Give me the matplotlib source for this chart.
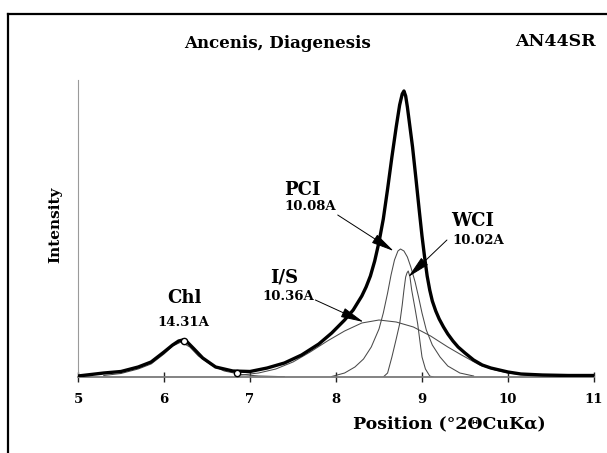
import matplotlib
matplotlib.use('Agg')
import matplotlib.pyplot as plt
from matplotlib.lines import Line2D

# ---------------- data ----------------
pos_total = [5.00, 5.15, 5.30, 5.50, 5.70, 5.85, 6.00, 6.10, 6.17, 6.22, 6.27, 6.35,
             6.45, 6.60, 6.80, 7.00, 7.20, 7.40, 7.60, 7.80, 7.95, 8.10, 8.20, 8.30,
             8.35, 8.40, 8.45, 8.50, 8.55, 8.60, 8.65, 8.70, 8.74, 8.77, 8.79, 8.81,
             8.83, 8.86, 8.89, 8.93, 8.97, 9.00, 9.03, 9.06, 9.09, 9.12, 9.16, 9.20,
             9.25, 9.30, 9.36, 9.42, 9.50, 9.60, 9.70, 9.80, 9.90, 10.00, 10.15,
             10.40, 10.70, 11.00]
int_total = [1, 2.5, 4, 5.5, 10, 15, 25, 32, 36, 37, 35, 28,
             19, 10, 6, 5.5, 9, 14, 22, 33, 44, 57, 67, 81,
             90, 101, 116, 135, 158, 188, 220, 250, 272, 283, 286, 281,
             270, 250, 230, 198, 165, 141, 120, 101, 87, 76, 66, 58,
             50, 43, 36, 30, 24, 17, 12, 9, 7, 5, 3,
             2, 1.5, 1.5]

pos_chl = [5.3, 5.5, 5.7, 5.85, 6.0, 6.1, 6.2, 6.3, 6.4, 6.55, 6.7, 6.9, 7.1, 7.4]
int_chl = [1.5, 3.5, 8, 13, 23, 31, 35, 30, 21, 12, 6, 2.5, 1, 0.3]

pos_is = [6.9, 7.1, 7.3, 7.5, 7.7, 7.9, 8.1, 8.3, 8.5, 8.7, 8.9, 9.1, 9.3, 9.46,
          9.67, 9.85, 10.0, 10.2, 10.5]
int_is = [2, 4, 8, 15, 25, 36, 46, 54, 57, 55, 50, 41, 30, 22,
          12, 7, 4, 2, 1]

pos_pci = [7.95, 8.10, 8.22, 8.32, 8.41, 8.50, 8.55, 8.60, 8.64, 8.68, 8.72, 8.75,
           8.79, 8.83, 8.87, 8.92, 8.96, 9.00, 9.05, 9.12, 9.21, 9.30, 9.44, 9.60]
int_pci = [0.5, 4, 10, 18, 30, 48, 64, 84, 102, 117, 126, 128,
           126, 120, 110, 95, 80, 64, 47, 32, 20, 11, 4, 1]

pos_wci = [8.55, 8.60, 8.65, 8.70, 8.74, 8.77, 8.79, 8.81, 8.825, 8.84, 8.86, 8.88,
           8.92, 8.95, 8.98, 9.00, 9.04, 9.09, 9.13]
int_wci = [0, 4, 20, 38, 53, 72, 87, 100, 104, 106, 100, 87,
           68, 53, 33, 20, 8, 1, 0]

pos_marks = [6.23, 6.85]
int_marks = [36, 4]

x_ticks = [5, 6, 7, 8, 9, 10, 11]
x_ticklabels = ['5', '6', '7', '8', '9', '10', '11']

peak_names = ['Chl', 'PCI', 'I/S', 'WCI']
peak_d = ['14.31A', '10.08A', '10.36A', '10.02A']

# ---------------- figure ----------------
plt.rcParams['font.family'] = ['DejaVu Serif']
plt.rcParams['font.weight'] = 'bold'

W, H = 607, 453
fig = plt.figure(figsize=(W / 100, H / 100), dpi=100)

def fx(x):
    return x / W

def fy(y):
    return 1 - y / H

L, R, B, T = 78, 594, 377, 80
ax = fig.add_axes([fx(L), fy(B), (R - L) / W, (B - T) / H])
ax.set_xlim(5, 11)
ax.set_ylim(0, 297)
ax.patch.set_alpha(0)

thin = dict(color='#4a4a4a', lw=0.75, zorder=2)
ax.plot(pos_chl, int_chl, **thin)
ax.plot(pos_is, int_is, **thin)
ax.plot(pos_pci, int_pci, **thin)
ax.plot(pos_wci, int_wci, **thin)
ax.plot(pos_total, int_total, color='black', lw=2.4, zorder=3,
        solid_joinstyle='round', solid_capstyle='round')
ax.plot(pos_marks, int_marks, linestyle='none', marker='o', ms=4.5,
        mfc='white', mec='black', mew=1.0, zorder=4)

for s in ['top', 'right']:
    ax.spines[s].set_visible(False)
ax.spines['bottom'].set_color('#7a7a7a')
ax.spines['bottom'].set_linewidth(1.3)
ax.spines['left'].set_color('#9a9a9a')
ax.spines['left'].set_linewidth(0.8)
ax.set_yticks([])
ax.set_xticks(x_ticks)
ax.set_xticklabels(x_ticklabels)
ax.tick_params(axis='x', direction='inout', length=6.5, width=1.0,
               color='#222222', pad=8, labelsize=9.5)

# axis labels and titles
fig.text(fx(449), fy(424), 'Position (°2ΘCuKα)', ha='center', va='center',
         fontsize=12.5, fontweight='bold')
fig.text(fx(55), fy(225), 'Intensity', rotation=90, ha='center', va='center',
         fontsize=11, fontweight='bold')
fig.text(fx(278), fy(44), 'Ancenis, Diagenesis', ha='center', va='center',
         fontsize=12, fontweight='bold')
fig.text(fx(515), fy(41), 'AN44SR', ha='left', va='center',
         fontsize=12.5, fontweight='bold')

# peak labels
name_xy = [(184, 298), (302, 190), (284, 278), (473, 221)]
d_xy = [(183, 322), (310, 207), (288, 296), (478, 240)]
for n, (x, y) in zip(peak_names, name_xy):
    fig.text(fx(x), fy(y), n, ha='center', va='center', fontsize=13,
             fontweight='bold')
for d, (x, y) in zip(peak_d, d_xy):
    fig.text(fx(x), fy(y), d, ha='center', va='center', fontsize=9.5,
             fontweight='bold')

# arrows (data coordinates)
arrows = [((8.02, 162), (8.67, 126)),   # PCI
          ((7.76, 77), (8.32, 55)),     # I/S
          ((9.29, 137), (8.84, 100))]   # WCI
for start, tip in arrows:
    ax.annotate('', xy=tip, xytext=start,
                arrowprops=dict(arrowstyle='-|>,head_length=1.3,head_width=0.28',
                                mutation_scale=11, lw=0.7, color='black',
                                shrinkA=0, shrinkB=0),
                zorder=5)

# page border (top and left)
fig.add_artist(Line2D([fx(8), 1.0], [fy(14), fy(14)], transform=fig.transFigure,
                      color='black', lw=1.6))
fig.add_artist(Line2D([fx(8), fx(8)], [0.0, fy(14)], transform=fig.transFigure,
                      color='black', lw=1.6))

fig.savefig('out.png', dpi=100)
